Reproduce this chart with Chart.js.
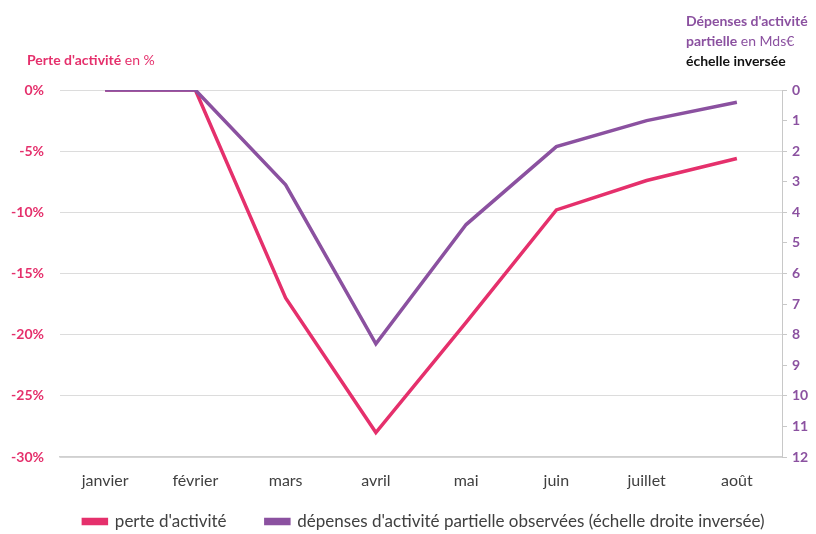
<!DOCTYPE html>
<html>
<head>
<meta charset="utf-8">
<script src="https://cdn.jsdelivr.net/npm/chart.js@4"></script>
<style>
  body { margin: 0; background: #fff; }
  #wrap { width: 816px; height: 534px; position: relative; }
</style>
</head>
<body>
<div id="wrap"><canvas id="Chart"></canvas></div>
<script>
const months = ['janvier', 'février', 'mars', 'avril', 'mai', 'juin', 'juillet', 'août'];
const perte = [0, 0, -17, -28, -19, -9.8, -7.4, -5.6];
const depenses = [0, 0, 3.1, 8.3, 4.4, 1.85, 1.0, 0.4];

const pink = '#e5306c';
const purple = '#8b51a0';
const fontName = 'Lato, "Open Sans", sans-serif';

// axis titles drawn by hand, two colours in one line
const titles = {
    id: 'titles',
    afterDraw(chart) {
        const ctx = chart.ctx;
        ctx.save();
        ctx.textBaseline = 'alphabetic';
        ctx.textAlign = 'left';

        function part(txt, x, y, bold, color) {
            ctx.font = (bold ? 'bold ' : '') + '14px ' + fontName;
            ctx.fillStyle = color;
            ctx.fillText(txt, x, y);
            return x + ctx.measureText(txt).width;
        }

        let x = part("Perte d'activité", 27, 65, true, pink);
        part(' en %', x, 65, false, pink);

        part("Dépenses d'activité", 686, 26, true, purple);
        x = part('partielle', 686, 46, true, purple);
        part(' en Mds€', x, 46, false, purple);
        part('échelle inversée', 686, 66, true, '#111111');
        ctx.restore();
    }
};

// legend sits a bit right of the canvas centre in the original
const legendShift = {
    id: 'legendShift',
    afterLayout(chart) {
        chart.legend.left += 16;
        chart.legend.right += 16;
    }
};

let chartdata = {
    labels: months,
    datasets: [{
            label: "dépenses d'activité partielle observées (échelle droite inversée)",
            data: depenses,
            yAxisID: 'y2',
            borderColor: purple,
            backgroundColor: purple,
            borderWidth: 3.5,
            pointRadius: 0,
            tension: 0,
            order: 1
        },
        {
            label: "perte d'activité",
            data: perte,
            yAxisID: 'y',
            borderColor: pink,
            backgroundColor: pink,
            borderWidth: 3.5,
            pointRadius: 0,
            tension: 0,
            order: 2
        }
    ]
};

let barGraph = new Chart(document.getElementById('Chart'), {
    type: 'line',
    data: chartdata,
    plugins: [titles, legendShift],
    options: {
        responsive: true,
        maintainAspectRatio: false,
        animation: false,
        layout: { padding: { top: 90, left: 0, right: 0, bottom: -6 } },
        plugins: {
            tooltip: { enabled: false },
            legend: {
                position: 'bottom',
                reverse: true,
                labels: {
                    boxWidth: 23,
                    boxHeight: 4,
                    padding: 1,
                    color: '#404040',
                    font: { family: fontName, size: 17 },
                    generateLabels(chart) {
                        const items = Chart.defaults.plugins.legend.labels.generateLabels(chart);
                        items.forEach(it => {
                            if (it.datasetIndex === 1) it.text = it.text + '\u2003\u2003\u2003';
                        });
                        return items;
                    }
                }
            }
        },
        scales: {
            x: {
                offset: true,
                grid: { display: false, drawTicks: false },
                border: { display: true, color: '#d0d0d0', width: 1.5 },
                ticks: { color: '#404040', padding: 14, font: { family: fontName, size: 16 } },
                afterFit: axis => { axis.height = 55; }
            },
            y: {
                position: 'left',
                min: -30,
                max: 0,
                ticks: {
                    stepSize: 5,
                    padding: 16,
                    color: pink,
                    font: { family: fontName, size: 14, weight: 'bold' },
                    callback: v => v + '%'
                },
                grid: { color: '#dcdcdc', drawTicks: false },
                border: { display: false },
                afterFit: axis => { axis.width = 60; }
            },
            y2: {
                position: 'right',
                reverse: true,
                min: 0,
                max: 12,
                ticks: {
                    stepSize: 1,
                    padding: 5,
                    color: purple,
                    font: { family: fontName, size: 14, weight: 'bold' }
                },
                grid: { drawOnChartArea: false, tickLength: 5, color: '#c8c8c8' },
                border: { display: true, color: '#c8c8c8' },
                afterFit: axis => { axis.width = 34; }
            }
        }
    }
});
</script>
</body>
</html>
